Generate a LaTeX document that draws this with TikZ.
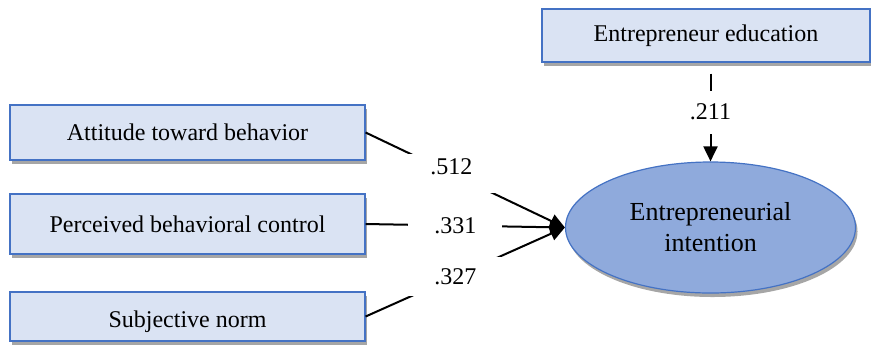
\documentclass[tikz,border=0pt]{standalone}
\usepackage{fontspec}
\setmainfont{Liberation Serif}
\usepackage{tikz}
\usetikzlibrary{positioning,arrows.meta,shapes.geometric,shadows}
\definecolor{boxfill}{HTML}{DAE3F3}
\definecolor{boxline}{HTML}{4472C4}
\definecolor{ovalfill}{HTML}{8FAADC}

\begin{document}
\begin{tikzpicture}[x=0.5pt,y=-0.5pt,>={Triangle[length=7.5pt,width=7pt]},
  var/.style={draw=boxline,fill=boxfill,line width=0.6pt,minimum width=177.5pt,inner sep=0pt,
    font=\fontsize{12}{14}\selectfont,
    drop shadow={shadow xshift=1pt,shadow yshift=-2pt,fill=black!35,opacity=1}},
  coef/.style={fill=white,inner sep=0pt,minimum width=47pt,minimum height=19.5pt,font=\fontsize{12}{14}\selectfont},
  link/.style={line width=1pt}]
\useasboundingbox (0,0) rectangle (871,344);
\node[var,minimum height=27.5pt] (att) at (187.5,132.5) {Attitude toward behavior};
\node[var,minimum height=30pt] (pbc) at (187.5,224) {Perceived behavioral control};
\node[var,minimum height=24.5pt] (sn) at (187.5,316.5) {\raisebox{-2.5pt}[\height][\depth]{Subjective norm}};
\node[var,minimum width=164pt,minimum height=26.5pt] (edu) at (706,35.5) {Entrepreneur education};
\node[ellipse,draw=boxline,fill=ovalfill,line width=0.6pt,minimum width=145pt,minimum height=65.5pt,inner sep=0pt,
  align=center,font=\fontsize{13}{15.5}\selectfont,
  drop shadow={shadow xshift=1pt,shadow yshift=-2pt,fill=black!35,opacity=1}] (ei) at (710.5,227.5) {Entrepreneurial\\intention};
% paths into the intention
\draw[->,link] (att.east) -- node[coef,pos=0.43] {\raisebox{7pt}{.512}} (ei.west);
\draw[->,link] (pbc.east) -- node[coef,pos=0.45] {.331} (ei.west);
\draw[->,link] (sn.east) -- node[coef,pos=0.45] {.327} (ei.west);
\draw[->,link,shorten <=5.5pt] (ei.north |- edu.south) -- node[coef,minimum height=21.5pt] {.211} (ei.north);
\end{tikzpicture}
\end{document}
